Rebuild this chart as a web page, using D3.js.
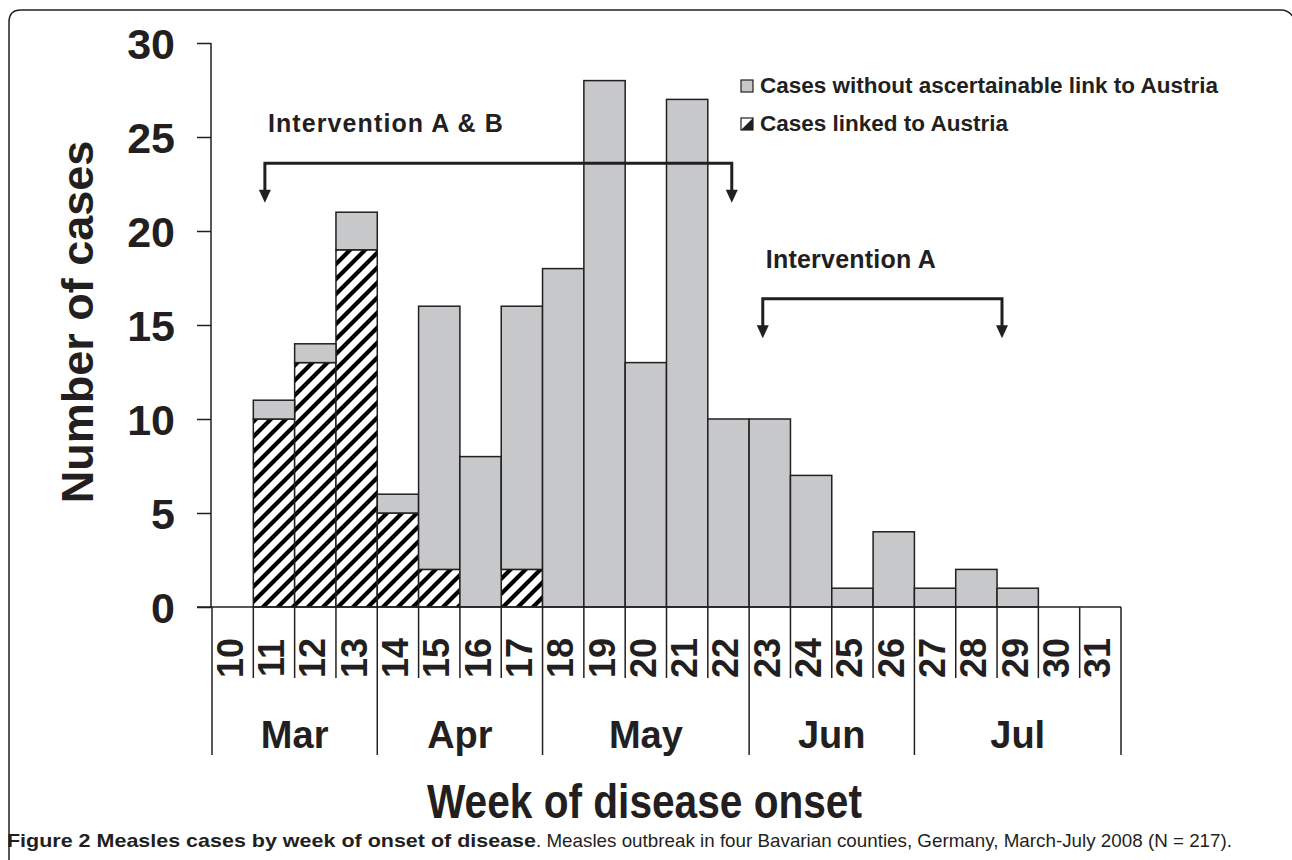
<!DOCTYPE html>
<html><head><meta charset="utf-8">
<script src="https://cdn.jsdelivr.net/npm/d3@7"></script>
<style>body{margin:0;background:#fff} svg{display:block}</style>
</head><body>
<svg id="c" width="1292" height="860"></svg>
<script>
// ---- data ----
const weeks  = [10,11,12,13,14,15,16,17,18,19,20,21,22,23,24,25,26,27,28,29,30,31];
const linked = [0,10,13,19,5,2,0,2,0,0,0,0,0,0,0,0,0,0,0,0,0,0];
const other  = [0,1,1,2,1,14,8,14,18,28,13,27,10,10,7,1,4,1,2,1,0,0];
const seriesKeys   = ["linked","other"];
const seriesLabels = ["Cases without ascertainable link to Austria","Cases linked to Austria"];
const months         = ["Mar","Apr","May","Jun","Jul"];
const monthFirstWeek = [10,14,18,23,27];
const monthLastWeek  = [13,17,22,26,31];
const yTicks = [0,5,10,15,20,25,30];
// interventions: start/end in week units, bracket level & arrow tip in case units
const intervLabels = ["Intervention A & B","Intervention A"];
const intervStart  = [11.28, 23.33];
const intervEnd    = [22.58, 29.12];
const intervLevel  = [23.6, 16.4];
const intervTip    = [21.5, 14.3];

const ink = "#231f20", gray = "#c7c8ca";
const font = "'Liberation Sans', Arial, Helvetica, sans-serif";

const svg = d3.select("#c");
const table = weeks.map((w,i)=>({week:w, linked:linked[i], other:other[i]}));

const x = d3.scaleBand().domain(weeks).range([212,1121]).padding(0);
const xc = d3.scaleLinear().domain([10,32]).range([212,1121]); // continuous weeks
const y = d3.scaleLinear().domain([0,30]).range([607,43]);

// defs: hatch
const defs = svg.append("defs");
const P = 15;
const pat = defs.append("pattern").attr("id","hatch").attr("patternUnits","userSpaceOnUse")
  .attr("width",P).attr("height",P);
pat.append("rect").attr("width",P).attr("height",P).attr("fill","#fff");
pat.append("path").attr("d",`M0,${P} L${P},0 M${-P/4},${P/4} L${P/4},${-P/4} M${3*P/4},${5*P/4} L${5*P/4},${3*P/4}`)
  .attr("stroke","#000").attr("stroke-width",4.2);

// frame
svg.append("path").attr("d","M9,860 V22 Q9,10 21,10 H1281 Q1289,10 1294,18")
  .attr("fill","none").attr("stroke",ink).attr("stroke-width",1.5);

// bars
const stack = d3.stack().keys(seriesKeys)(table);
const fills = {linked:"url(#hatch)", other:gray};
stack.forEach(layer=>{
  svg.append("g").selectAll("rect").data(layer.filter(d=>d[1]-d[0]>0)).join("rect")
    .attr("x",d=>x(d.data.week)).attr("width",x.bandwidth())
    .attr("y",d=>y(d[1])).attr("height",d=>y(d[0])-y(d[1]))
    .attr("fill",fills[layer.key]).attr("stroke",ink).attr("stroke-width",1.5);
});

// y axis
const yAxis = d3.axisLeft(y).tickValues(yTicks).tickSize(14).tickPadding(22);
const gy = svg.append("g").attr("transform","translate(211,0)").call(yAxis);
gy.select(".domain").attr("stroke",ink).attr("stroke-width",1.5).attr("d","M0,43V607");
gy.selectAll(".tick line").attr("stroke",ink).attr("stroke-width",1.5);
gy.selectAll(".tick text").attr("font-family",font).attr("font-weight","bold")
  .attr("font-size",43).attr("fill",ink).attr("dy","0.36em");

// x axis baseline
svg.append("line").attr("x1",197).attr("x2",1121).attr("y1",y(0)).attr("y2",y(0))
  .attr("stroke",ink).attr("stroke-width",1.5);

// week separators
const bounds = weeks.concat([32]);
const monthBounds = monthFirstWeek.concat([32]);
svg.append("g").selectAll("line").data(bounds).join("line")
  .attr("x1",d=>xc(d)).attr("x2",d=>xc(d)).attr("y1",y(0))
  .attr("y2",d=>monthBounds.includes(d)?755:678)
  .attr("stroke",ink).attr("stroke-width",1.5);

// week labels
svg.append("g").selectAll("text").data(weeks).join("text")
  .attr("transform",d=>`translate(${x(d)+x.bandwidth()/2+10},658) rotate(-90)`)
  .attr("text-anchor","middle").attr("font-family",font).attr("font-weight","bold")
  .attr("font-size",36).attr("fill",ink).text(d=>d);

// month labels
svg.append("g").selectAll("text").data(months).join("text")
  .attr("x",(d,i)=>(xc(monthFirstWeek[i])+xc(monthLastWeek[i]+1))/2).attr("y",748)
  .attr("text-anchor","middle").attr("font-family",font).attr("font-weight","bold")
  .attr("font-size",38).attr("fill",ink).text(d=>d);

// axis titles
svg.append("text").attr("transform","translate(93,322) rotate(-90)").attr("text-anchor","middle")
  .attr("font-family",font).attr("font-weight","bold").attr("font-size",45).attr("fill",ink)
  .text("Number of cases");
svg.append("text").attr("x",427).attr("y",818).attr("textLength",435).attr("lengthAdjust","spacingAndGlyphs")
  .attr("font-family",font).attr("font-weight","bold").attr("font-size",49).attr("fill",ink)
  .text("Week of disease onset");

// interventions
const intervTextLen = [235, 170];
intervLabels.forEach((lab,i)=>{
  const x0 = xc(intervStart[i]), x1 = xc(intervEnd[i]);
  const yl = y(intervLevel[i]), yt = y(intervTip[i]);
  const g = svg.append("g");
  g.append("path").attr("d",`M${x0},${yt-11} V${yl} H${x1} V${yt-11}`)
    .attr("fill","none").attr("stroke",ink).attr("stroke-width",3);
  [x0,x1].forEach(xx=>{
    g.append("path").attr("d",`M${xx-6},${yt-13} L${xx+6},${yt-13} L${xx},${yt} Z`).attr("fill",ink);
  });
  g.append("text").attr("x",x0+3).attr("y",yl-31).attr("textLength",intervTextLen[i])
    .attr("font-family",font).attr("font-weight","bold").attr("font-size",25).attr("fill",ink).text(lab);
});

// legend
const lg = svg.append("g");
lg.append("rect").attr("x",741).attr("y",80).attr("width",12).attr("height",12)
  .attr("fill",gray).attr("stroke",ink).attr("stroke-width",1.2);
lg.append("rect").attr("x",741).attr("y",118).attr("width",12).attr("height",12)
  .attr("fill","#fff").attr("stroke",ink).attr("stroke-width",1.2);
lg.append("path").attr("d","M753,118 L753,130 L741,130 Z").attr("fill",ink);
seriesLabels.forEach((t,i)=>{
  lg.append("text").attr("x",760).attr("y",93+i*38)
    .attr("font-family",font).attr("font-weight","bold").attr("font-size",22.5).attr("fill",ink).text(t);
});

// caption
svg.append("text").attr("x",7).attr("y",847).attr("textLength",529).attr("lengthAdjust","spacingAndGlyphs")
  .attr("font-family",font).attr("font-weight","bold").attr("font-size",19).attr("fill",ink)
  .text("Figure 2 Measles cases by week of onset of disease");
svg.append("text").attr("x",536).attr("y",847).attr("textLength",696).attr("lengthAdjust","spacingAndGlyphs")
  .attr("font-family",font).attr("font-size",19).attr("fill",ink)
  .text(". Measles outbreak in four Bavarian counties, Germany, March-July 2008 (N = 217).");
</script></body></html>
